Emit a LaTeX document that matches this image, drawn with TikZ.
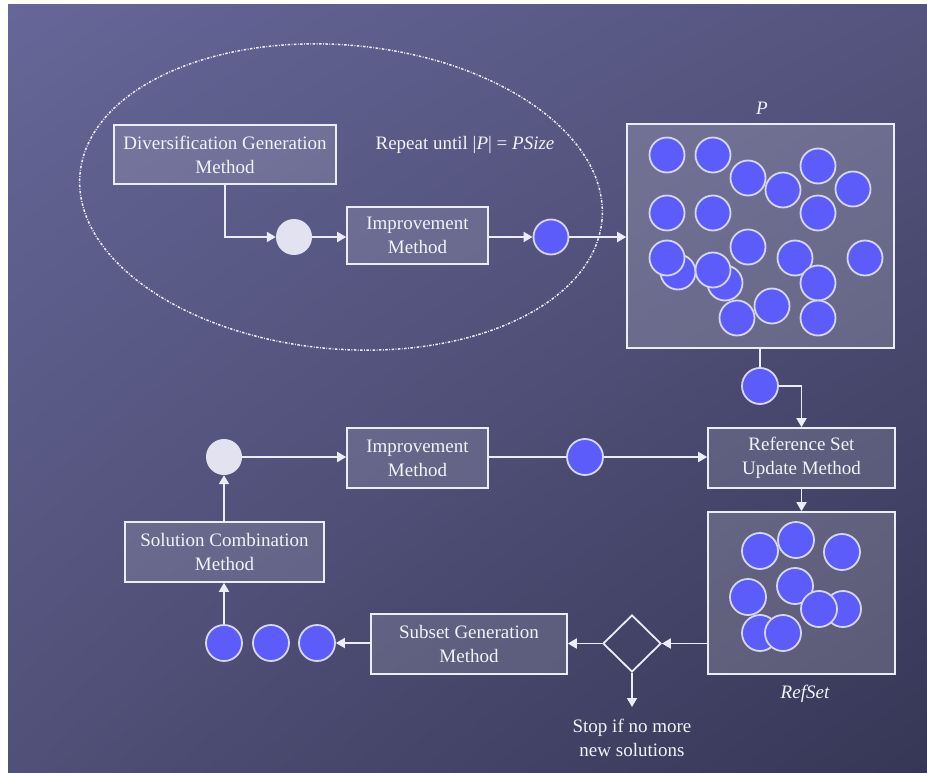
\documentclass[tikz,border=0pt]{standalone}
\usepackage{fontspec}
\setmainfont{Liberation Serif}
\usetikzlibrary{arrows.meta,shapes.geometric,shadings}
\definecolor{bgTL}{RGB}{102,102,152}
\definecolor{bgTR}{RGB}{84,84,126}
\definecolor{bgBL}{RGB}{80,80,120}
\definecolor{bgBR}{RGB}{54,54,86}
\definecolor{linec}{RGB}{236,236,246}
\definecolor{txtc}{RGB}{242,242,248}
\definecolor{bluec}{RGB}{92,92,250}
\definecolor{bluerim}{RGB}{214,214,248}
\definecolor{lightc}{RGB}{226,226,240}
\tikzset{
  mbox/.style={draw=linec, line width=1.6pt, fill=white, fill opacity=0.13, text opacity=1,
    text=txtc, align=center, inner sep=0pt, font=\fontsize{19}{24}\selectfont},
  setbox/.style={draw=linec, line width=1.6pt, fill=white, fill opacity=0.17, inner sep=0pt},
  bdot/.style={circle, draw=bluerim, line width=1.8pt, fill=bluec, minimum size=35pt, inner sep=0pt},
  ldot/.style={circle, fill=lightc, minimum size=36pt, inner sep=0pt},
  lbl/.style={text=txtc, align=center, inner sep=0pt, font=\fontsize{19}{24}\selectfont},
  conn/.style={draw=linec, line width=1.8pt},
  arr/.style={conn, -{Triangle[length=9pt,width=10pt]}},
  loopline/.style={draw=linec, line width=1.5pt, dash pattern=on 2.5pt off 1.5pt on 0.8pt off 1.5pt}
}
\begin{document}
\begin{tikzpicture}[x=1pt,y=-1pt]
\useasboundingbox (0,0) rectangle (927,773);
\shade[upper left=bgTL, upper right=bgTR, lower left=bgBL, lower right=bgBR] (8,5) rectangle (927,773);

% repeat loop ellipse
\draw[loopline, rotate around={-5:(341,197)}] (341,197) ellipse [x radius=262, y radius=152];
\node[lbl] (rep) at (465,145) {Repeat until |\textit{P}| = \textit{PSize}};

% top row
\node[mbox, minimum width=222pt, minimum height=59pt] (div) at (225,154.5) {Diversification Generation\\Method};
\node[ldot] (lc1) at (294,237) {};
\node[mbox, minimum width=141pt, minimum height=57pt] (imp1) at (417.5,235.5) {Improvement\\Method};
\node[bdot] (bc1) at (551,237) {};

% population P
\node[setbox, minimum width=267pt, minimum height=224pt] (P) at (760.5,236) {};
\node[lbl, font=\fontsize{19}{24}\selectfont\itshape] (Plbl) at (762,108) {P};
\foreach \x/\y [count=\i] in {667/155, 713/155, 748/178, 783/190, 818/166, 853/189,
  667/213, 713/213, 818/213, 748/247, 795/258, 865/258, 678/272, 667/258,
  725/283, 713/270, 818/283, 772/306, 737/318, 818/318}
  \node[bdot] (p\i) at (\x,\y) {};

\node[bdot, minimum size=36pt] (bc2) at (760,386) {};

% reference set update
\node[mbox, minimum width=187pt, minimum height=60pt] (refupd) at (801.5,458) {Reference Set\\Update Method};
\node[setbox, minimum width=187pt, minimum height=162pt] (refset) at (801.5,593) {};
\foreach \x/\y [count=\i] in {760/551, 796/540, 842/552, 748/597, 795/586,
  843/609, 819/609, 760/633, 783/633}
  \node[bdot, minimum size=36pt] (r\i) at (\x,\y) {};
\node[lbl, font=\fontsize{19}{24}\selectfont\itshape] (rslbl) at (805,694) {RefSet};

% decision diamond
\node[diamond, draw=linec, line width=1.8pt, minimum width=58pt, minimum height=57pt, inner sep=0pt] (dia) at (632,643.5) {};
\coordinate (stopc) at (632,707);
\node[lbl] (stop) at (632,738) {Stop if no more\\new solutions};

% subset generation
\node[mbox, minimum width=196pt, minimum height=60pt] (subset) at (469,644) {Subset Generation\\Method};
\node[bdot, minimum size=36pt] (s3) at (317,643) {};
\node[bdot, minimum size=36pt] (s2) at (271,643) {};
\node[bdot, minimum size=36pt] (s1) at (224,643) {};

% combination and improvement
\node[mbox, minimum width=199pt, minimum height=60pt] (sol) at (224.5,552) {Solution Combination\\Method};
\node[ldot] (lc2) at (224,457) {};
\node[mbox, minimum width=141pt, minimum height=60pt] (imp2) at (417.5,458) {Improvement\\Method};
\node[bdot, minimum size=36pt] (bc3) at (585,457) {};

% connectors
\draw[arr] (div.south) |- (lc1.west);
\draw[arr] (lc1.east) -- (lc1.east -| imp1.west);
\draw[arr] (imp1.east |- bc1) -- (bc1.west);
\draw[arr] (bc1.east) -- (bc1.east -| P.west);
\draw[conn] (bc2.north |- P.south) -- (bc2.north);
\draw[arr] (bc2.east) -| (refupd.north);
\draw[arr] (refupd.south) -- (refset.north);
\draw[arr] (dia.east -| refset.west) -- (dia.east);
\draw[arr] (dia.west) -- (dia.west -| subset.east);
\draw[arr] (dia.south) -- (stopc);
\draw[arr] (subset.west |- s3) -- (s3.east);
\draw[arr] (s1.north) -- (s1.north |- sol.south);
\draw[arr] (lc2.south |- sol.north) -- (lc2.south);
\draw[arr] (lc2.east) -- (lc2.east -| imp2.west);
\draw[conn] (imp2.east |- bc3) -- (bc3.west);
\draw[arr] (bc3.east) -- (bc3.east -| refupd.west);
\end{tikzpicture}
\end{document}
